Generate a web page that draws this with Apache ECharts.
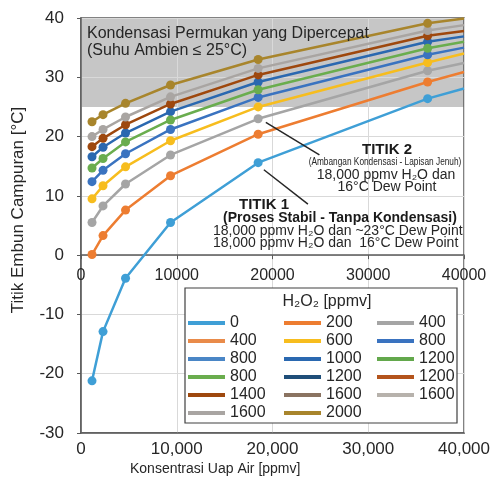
<!DOCTYPE html>
<html>
<head>
<meta charset="utf-8">
<script src="https://cdn.jsdelivr.net/npm/echarts@6/dist/echarts.min.js"></script>
<style>
  html, body { margin: 0; padding: 0; background: #fff; }
  #main { width: 493px; height: 479px; }
</style>
</head>
<body>
<div id="main"></div>
<script>
// H2O concentration of the measured points [ppmv]; the last one is where the lines leave the plot
const waterPpmv = [1150, 2300, 4650, 9350, 18500, 36200, 40000];

// mixture dew point [°C] per H2O2 level
const dew0     = [-21.2, -12.9, -3.9, 5.5, 15.6, 26.4, 28.1];
const dew200   = [0.1, 3.3, 7.6, 13.4, 20.4, 29.2, 30.9];
const dew400   = [5.5, 8.3, 12.0, 16.9, 23.0, 31.1, 32.4];
const dew600   = [9.5, 11.7, 14.9, 19.3, 25.0, 32.5, 34.0];
const dew800b  = [12.4, 14.3, 17.1, 21.2, 26.6, 33.8, 35.0];
const dew800g  = [14.7, 16.3, 19.1, 22.8, 27.9, 34.9, 36.0];
const dew1000  = [16.6, 18.2, 20.6, 24.2, 29.2, 36.0, 36.9];
const dew1400  = [18.3, 19.7, 22.0, 25.5, 30.4, 37.0, 37.8];
const dew1600  = [20.0, 21.2, 23.3, 26.7, 31.5, 37.9, 38.8];
const dew2000  = [22.5, 23.7, 25.6, 28.7, 33.0, 39.1, 39.9];

// legend entries, row by row as in the box
const legendLabels = ['0', '200', '400', '400', '600', '800', '800', '1000', '1200',
                      '800', '1200', '1200', '1400', '1600', '1600', '1600', '2000'];
const legendColors = ['#3f9fd6', '#ed7d31', '#a5a5a5', '#e98b4a', '#f7bd1e', '#3a73c0',
                      '#4a86c6', '#2a68b0', '#63a84c', '#6aad4e', '#1f4e79', '#b4541c',
                      '#9e480e', '#8a7361', '#b7b2ac', '#a9a5a2', '#a8852c'];
// curve drawn for each legend entry (null = only in the legend)
const legendCurves = [dew0, dew200, dew400, null, dew600, dew800b, null, dew1000, null,
                      dew800g, null, null, dew1400, null, null, dew1600, dew2000];

const yTicks = { min: -30, max: 40, step: 10 };
const xTicks = { min: 0, max: 40000, step: 10000 };
const shadeFrom = 25;

const chart = echarts.init(document.getElementById('main'), null, { renderer: 'canvas' });

const axisColor = '#595959';
const textColor = '#262626';
const font = "'Liberation Sans', Arial, sans-serif";
const gridBox = { left: 81, right: 27, top: 18, bottom: 46 };
const plotH = 479 - gridBox.top - gridBox.bottom;
// the plain-number x axis sits on the 0 °C line
const zeroOffset = -plotH * (0 - yTicks.min) / (yTicks.max - yTicks.min);

let series = legendLabels.map((lab, i) => {
  const vals = legendCurves[i] || [];
  return {
    name: 's' + i,
    type: 'line',
    xAxisIndex: 0,
    yAxisIndex: 0,
    symbol: 'circle',
    symbolSize: 9,
    lineStyle: { width: 2.5, color: legendColors[i] },
    itemStyle: { color: legendColors[i] },
    emphasis: { disabled: true },
    data: vals.map((v, j) => j === vals.length - 1
      ? { value: [waterPpmv[j], v], symbol: 'none' }
      : [waterPpmv[j], v])
  };
});

// grey zone: accelerated surface condensation
series.unshift({
  type: 'line',
  data: [[0, shadeFrom]],
  symbol: 'none',
  lineStyle: { width: 0 },
  silent: true,
  markArea: {
    silent: true,
    z: -1,
    itemStyle: { color: '#c6c6c6' },
    data: [[{ coord: [xTicks.min, shadeFrom] }, { coord: [xTicks.max, yTicks.max] }]]
  }
});

// arrows to the two marked points
series.push({
  type: 'line',
  data: [],
  markLine: {
    silent: true,
    symbol: ['none', 'arrow'],
    symbolSize: [0, 10],
    label: { show: false },
    lineStyle: { color: '#262626', width: 1.5, type: 'solid' },
    data: [
      [{ coord: [24900, 16.9] }, { coord: [19300, 22.4] }],
      [{ coord: [23700, 8.6] }, { coord: [19100, 14.4] }]
    ]
  }
});

const names = legendLabels.map((l, i) => 's' + i);
const col = (c) => names.filter((n, i) => i % 3 === c);
const legendBase = {
  orient: 'vertical',
  itemWidth: 37,
  itemHeight: 4,
  itemGap: 0,
  padding: 0,
  icon: 'rect',
  selectedMode: false,
  textStyle: { fontSize: 16, lineHeight: 18, color: textColor, fontFamily: font },
  formatter: (n) => legendLabels[+n.slice(1)]
};

const option = {
  animation: false,
  textStyle: { fontFamily: font },
  grid: Object.assign({
    show: true,
    borderColor: axisColor,
    borderWidth: 1.5
  }, gridBox),
  xAxis: [
    {
      type: 'value',
      position: 'bottom',
      offset: zeroOffset,
      min: xTicks.min, max: xTicks.max, interval: xTicks.step,
      axisLine: { onZero: false, lineStyle: { color: axisColor, width: 1.5 } },
      axisTick: { show: true, length: 4, lineStyle: { color: axisColor } },
      axisLabel: { fontSize: 16, color: textColor, margin: 12, formatter: (v) => String(v) },
      splitLine: { show: true, lineStyle: { color: '#d9d9d9', width: 1 } }
    },
    {
      type: 'value',
      position: 'bottom',
      min: xTicks.min, max: xTicks.max, interval: xTicks.step,
      axisLine: { onZero: false, lineStyle: { color: axisColor, width: 1.5 } },
      axisTick: { show: false },
      axisLabel: {
        fontSize: 17, color: textColor, margin: 8,
        formatter: (v) => v.toLocaleString('en-US')
      },
      splitLine: { show: false }
    }
  ],
  yAxis: {
    type: 'value',
    min: yTicks.min, max: yTicks.max, interval: yTicks.step,
    axisLine: { show: true, onZero: false, lineStyle: { color: axisColor, width: 1.5 } },
    axisTick: { show: true, length: 4, lineStyle: { color: axisColor } },
    axisLabel: { fontSize: 17, color: textColor, margin: 17 },
    splitLine: { show: true, lineStyle: { color: '#d9d9d9', width: 1 } }
  },
  legend: [
    Object.assign({ left: 188, top: 314, data: col(0) }, legendBase),
    Object.assign({ left: 284, top: 314, data: col(1) }, legendBase),
    Object.assign({ left: 377, top: 314, data: col(2) }, legendBase)
  ],
  graphic: [
    {
      type: 'rect', z: 3, silent: true,
      shape: { x: 185, y: 288, width: 272, height: 135 },
      style: { fill: '#fff', stroke: '#404040', lineWidth: 1.2 }
    },
    {
      type: 'text', z: 5, x: 327, y: 302,
      style: { text: 'H₂O₂ [ppmv]', font: '16px ' + font, fill: textColor, align: 'center', verticalAlign: 'middle' }
    },
    {
      type: 'text', z: 5, x: 18, y: 210, rotation: Math.PI / 2,
      style: { text: 'Titik Embun Campuran [°C]', font: '17px ' + font, fill: textColor, align: 'center', verticalAlign: 'middle' }
    },
    {
      type: 'text', z: 5, x: 130, y: 469,
      style: { text: 'Konsentrasi Uap Air [ppmv]', font: '14px ' + font, fill: textColor, align: 'left', verticalAlign: 'middle' }
    },
    {
      type: 'text', z: 5, x: 87, y: 34,
      style: { text: 'Kondensasi Permukan yang Dipercepat', font: '16px ' + font, fill: textColor, align: 'left', verticalAlign: 'middle' }
    },
    {
      type: 'text', z: 5, x: 87, y: 51,
      style: { text: '(Suhu Ambien ≤ 25°C)', font: '16px ' + font, fill: textColor, align: 'left', verticalAlign: 'middle' }
    },
    {
      type: 'text', z: 5, x: 387, y: 150,
      style: { text: 'TITIK 2', font: 'bold 15px ' + font, fill: '#1a1a1a', align: 'center', verticalAlign: 'middle' }
    },
    {
      type: 'text', z: 5, x: 385, y: 162, scaleX: 0.83,
      style: { text: '(Ambangan Kondensasi - Lapisan Jenuh)', font: '10px ' + font, fill: textColor, align: 'center', verticalAlign: 'middle' }
    },
    {
      type: 'text', z: 5, x: 386, y: 175,
      style: { text: '18,000 ppmv H₂O dan', font: '14px ' + font, fill: textColor, align: 'center', verticalAlign: 'middle' }
    },
    {
      type: 'text', z: 5, x: 387, y: 187,
      style: { text: '16°C Dew Point', font: '14px ' + font, fill: textColor, align: 'center', verticalAlign: 'middle' }
    },
    {
      type: 'text', z: 5, x: 239, y: 205,
      style: { text: 'TITIK 1', font: 'bold 15px ' + font, fill: '#1a1a1a', align: 'left', verticalAlign: 'middle' }
    },
    {
      type: 'text', z: 5, x: 223, y: 218,
      style: { text: '(Proses Stabil - Tanpa Kondensasi)', font: 'bold 14px ' + font, fill: '#1a1a1a', align: 'left', verticalAlign: 'middle' }
    },
    {
      type: 'text', z: 5, x: 213, y: 231,
      style: { text: '18,000 ppmv H₂O dan ~23°C Dew Point', font: '14px ' + font, fill: textColor, align: 'left', verticalAlign: 'middle' }
    },
    {
      type: 'text', z: 5, x: 213, y: 243,
      style: { text: '18,000 ppmv H₂O dan  16°C Dew Point', font: '14px ' + font, fill: textColor, align: 'left', verticalAlign: 'middle' }
    }
  ],
  series: series
};

chart.setOption(option);
</script>
</body>
</html>
